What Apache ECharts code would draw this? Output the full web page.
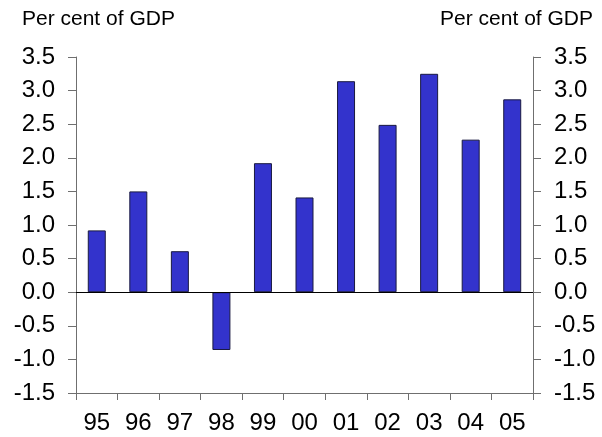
<!DOCTYPE html>
<html>
<head>
<meta charset="utf-8">
<script src="https://cdn.jsdelivr.net/npm/echarts@6/dist/echarts.min.js"></script>
<style>
  html, body { margin: 0; padding: 0; background: #fff; }
  #chart { width: 602px; height: 437px; }
</style>
</head>
<body>
<div id="chart"></div>
<script>
// balance, per cent of GDP
const years = ['95', '96', '97', '98', '99', '00', '01', '02', '03', '04', '05']
const values = [0.92, 1.50, 0.61, -0.86, 1.92, 1.41, 3.14, 2.49, 3.25, 2.27, 2.87]
const unitLabel = 'Per cent of GDP'

const font = 'Liberation Sans, Arial, sans-serif'
const axisGray = '#6f6f6f'

const yAxisCommon = {
  type: 'value',
  min: -1.5,
  max: 3.5,
  interval: 0.5,
  axisLine: { show: true, lineStyle: { color: axisGray, width: 1 } },
  axisTick: { show: true, length: 8, lineStyle: { color: axisGray } },
  splitLine: { show: false },
  axisLabel: {
    color: '#000',
    fontSize: 24,
    fontFamily: font,
    margin: 21,
    formatter: v => v.toFixed(1)
  }
}

const chart = echarts.init(document.getElementById('chart'), null, { renderer: 'canvas' })
chart.setOption({
  animation: false,
  grid: { left: 76, right: 69, top: 57, bottom: 44, containLabel: false },
  graphic: [
    { type: 'text', left: 22, top: 9, style: { text: unitLabel, fontSize: 21, fontFamily: font, fill: '#000' } },
    { type: 'text', right: 9, top: 9, style: { text: unitLabel, fontSize: 21, fontFamily: font, fill: '#000' } }
  ],
  xAxis: {
    type: 'category',
    data: years,
    boundaryGap: true,
    axisLine: { onZero: false, lineStyle: { color: axisGray } },
    axisTick: { show: true, alignWithLabel: false, length: 7, lineStyle: { color: axisGray } },
    axisLabel: { color: '#000', fontSize: 24, fontFamily: font, margin: 18, interval: 0 }
  },
  yAxis: [
    Object.assign({}, yAxisCommon, { position: 'left' }),
    Object.assign({}, yAxisCommon, { position: 'right' })
  ],
  series: [{
    type: 'bar',
    data: values,
    barWidth: 18,
    itemStyle: { color: '#3333cc', borderColor: '#1a1a40', borderWidth: 1 },
    markLine: {
      silent: true,
      symbol: 'none',
      label: { show: false },
      lineStyle: { color: '#000', width: 1, type: 'solid' },
      data: [{ yAxis: 0 }]
    }
  }]
})
</script>
</body>
</html>
